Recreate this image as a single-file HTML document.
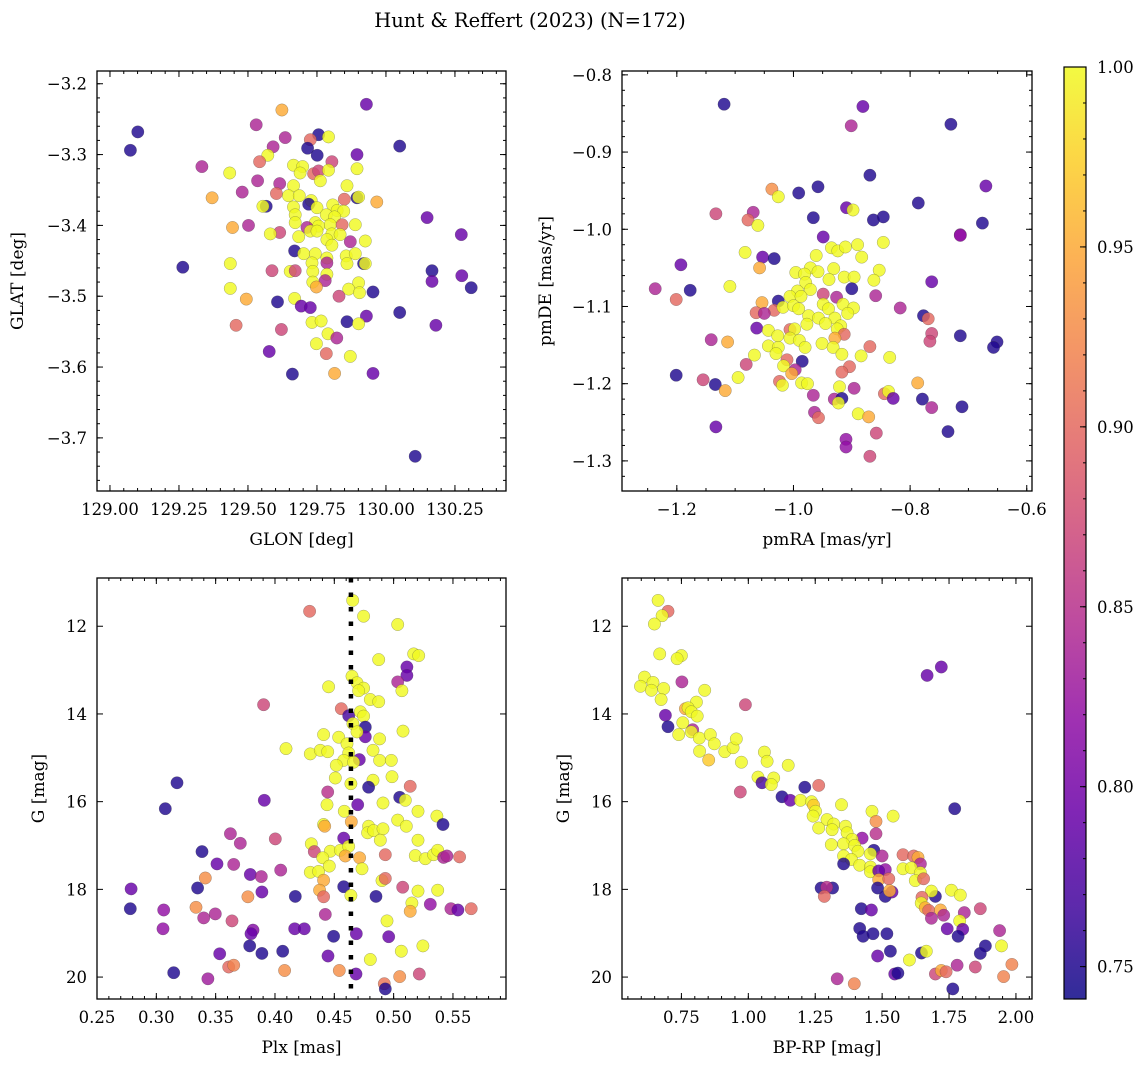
<!DOCTYPE html>
<html><head><meta charset="utf-8">
<style>
html,body{margin:0;padding:0;background:#fff;}
svg{display:block;font-family:"DejaVu Serif","Liberation Serif",serif;}
</style></head>
<body>
<svg id="fig" width="1148" height="1067" viewBox="0 0 1148 1067" xmlns="http://www.w3.org/2000/svg">
<defs>
<linearGradient id="plasmaGrad" x1="0" y1="1" x2="0" y2="0"></linearGradient>
</defs>
<text x="530" y="27" font-size="19.5" text-anchor="middle">Hunt &amp; Reffert (2023) (N=172)</text>
</svg>
<script>
// ---------- Panel 1: GLON vs GLAT ----------
const p1x=[129.101,129.074,129.623,129.929,129.530,129.635,129.756,129.726,129.792,129.716,129.591,129.572,129.751,129.895,130.050,129.804,129.542,129.333,129.434,129.665,129.698,129.689,129.738,129.756,129.792,129.762,129.895,129.535,129.615,129.665,129.479,129.370,129.603,129.647,129.686,129.859,129.895,129.901,129.849,129.967,129.729,129.566,129.554,129.665,129.720,129.750,129.807,129.823,129.847,129.671,129.784,129.814,130.149,129.671,129.744,129.798,129.841,129.889,129.714,129.756,129.444,129.502,129.615,129.581,129.726,129.750,129.804,129.834,130.273,129.684,129.786,129.871,129.925,129.804,129.669,129.702,129.744,129.786,129.856,129.889,129.264,129.436,129.732,129.786,129.859,129.919,129.925,130.167,130.167,130.275,130.309,129.587,129.653,129.671,129.735,129.786,129.780,129.735,129.748,129.901,129.865,129.904,129.953,129.436,129.494,129.830,129.669,129.607,129.693,129.726,130.050,129.929,129.859,129.732,129.765,129.901,130.181,129.457,129.621,129.790,129.822,129.748,129.577,129.784,129.871,129.661,129.814,129.953,130.106];
const p1y=[-3.268,-3.294,-3.237,-3.229,-3.258,-3.276,-3.272,-3.279,-3.275,-3.291,-3.289,-3.301,-3.301,-3.300,-3.288,-3.310,-3.310,-3.317,-3.326,-3.315,-3.317,-3.326,-3.327,-3.323,-3.322,-3.337,-3.320,-3.337,-3.341,-3.344,-3.353,-3.361,-3.355,-3.358,-3.358,-3.344,-3.361,-3.360,-3.363,-3.367,-3.365,-3.373,-3.373,-3.374,-3.370,-3.375,-3.371,-3.379,-3.380,-3.385,-3.385,-3.388,-3.389,-3.396,-3.396,-3.399,-3.399,-3.399,-3.403,-3.401,-3.403,-3.400,-3.410,-3.412,-3.408,-3.408,-3.412,-3.413,-3.413,-3.416,-3.420,-3.423,-3.422,-3.428,-3.436,-3.440,-3.440,-3.446,-3.443,-3.440,-3.459,-3.454,-3.453,-3.453,-3.454,-3.454,-3.454,-3.464,-3.479,-3.471,-3.488,-3.464,-3.465,-3.464,-3.465,-3.469,-3.478,-3.480,-3.487,-3.481,-3.490,-3.495,-3.494,-3.489,-3.504,-3.500,-3.503,-3.508,-3.514,-3.516,-3.523,-3.528,-3.536,-3.537,-3.535,-3.539,-3.541,-3.541,-3.547,-3.553,-3.559,-3.567,-3.578,-3.581,-3.585,-3.610,-3.609,-3.609,-3.726];
const p1c=[0.75,0.75,0.95,0.79,0.84,0.84,0.75,0.90,1,0.75,0.84,1,0.75,0.79,0.75,0.87,0.90,0.84,1,1,1,1,0.90,0.87,1,1,1,0.84,0.84,1,0.84,0.95,0.90,1,1,1,0.75,1,0.90,0.95,1,0.75,1,1,0.75,1,1,1,1,1,1,1,0.79,1,1,1,0.90,1,0.84,1,0.95,0.84,0.87,1,1,1,1,1,0.79,1,1,0.84,1,1,0.75,1,1,1,1,1,0.75,1,1,0.84,1,0.75,1,0.75,0.79,0.79,0.75,0.87,1,0.87,1,1,0.84,1,0.95,1,1,1,0.75,1,0.95,0.87,1,0.75,0.79,0.79,0.75,0.79,0.75,1,1,1,0.79,0.90,0.87,1,0.84,1,0.79,0.90,1,0.75,0.95,0.79,0.75];
const p1xTicks=[129.00,129.25,129.50,129.75,130.00,130.25];
const p1yTicks=[-3.2,-3.3,-3.4,-3.5,-3.6,-3.7];

// ---------- Panel 2: pmRA vs pmDE ----------
const p2x=[-1.119,-0.881,-0.901,-0.730,-0.869,-1.037,-0.991,-0.958,-0.670,-1.026,-0.786,-1.133,-1.069,-1.078,-1.061,-0.966,-0.909,-0.898,-0.863,-0.846,-0.676,-0.714,-0.714,-0.949,-0.935,-0.924,-0.911,-0.890,-0.846,-0.883,-1.083,-1.053,-1.033,-0.961,-1.193,-1.058,-0.971,-0.931,-0.853,-0.763,-1.237,-1.177,-1.201,-1.109,-0.996,-0.981,-0.958,-0.979,-0.939,-0.913,-0.896,-0.862,-0.900,-0.971,-0.993,-1.006,-0.987,-0.949,-0.926,-0.859,-1.054,-1.026,-1.033,-1.018,-1.000,-0.991,-0.949,-0.940,-0.915,-0.897,-0.907,-0.817,-1.064,-1.050,-0.777,-0.769,-0.974,-0.957,-0.929,-0.977,-0.945,-0.919,-0.925,-1.063,-1.043,-1.006,-0.998,-0.763,-0.766,-0.714,-0.651,-0.657,-1.141,-1.113,-1.027,-1.006,-0.990,-0.913,-0.929,-1.043,-1.026,-0.980,-0.951,-0.932,-0.917,-0.869,-0.884,-0.835,-1.067,-1.030,-1.081,-1.011,-0.985,-1.017,-0.997,-1.003,-0.904,-0.917,-1.201,-1.155,-1.134,-1.117,-1.095,-1.024,-1.019,-0.986,-0.976,-0.921,-0.896,-0.787,-0.966,-0.930,-0.917,-0.923,-0.844,-0.837,-0.829,-0.779,-0.763,-0.711,-0.964,-0.957,-0.889,-0.871,-1.133,-0.858,-0.735,-0.910,-0.910,-0.869];
const p2y=[-0.838,-0.841,-0.866,-0.864,-0.930,-0.948,-0.953,-0.945,-0.944,-0.958,-0.966,-0.980,-0.978,-0.988,-0.995,-0.985,-0.972,-0.975,-0.988,-0.984,-0.992,-1.007,-1.008,-1.010,-1.024,-1.028,-1.023,-1.020,-1.017,-1.036,-1.030,-1.036,-1.038,-1.034,-1.046,-1.050,-1.050,-1.051,-1.053,-1.068,-1.077,-1.079,-1.091,-1.074,-1.056,-1.058,-1.055,-1.069,-1.065,-1.062,-1.062,-1.066,-1.077,-1.078,-1.080,-1.087,-1.087,-1.084,-1.088,-1.086,-1.095,-1.093,-1.105,-1.101,-1.099,-1.103,-1.097,-1.103,-1.097,-1.102,-1.109,-1.102,-1.108,-1.109,-1.112,-1.116,-1.112,-1.115,-1.115,-1.123,-1.122,-1.125,-1.129,-1.128,-1.131,-1.130,-1.129,-1.135,-1.145,-1.138,-1.146,-1.153,-1.143,-1.146,-1.138,-1.141,-1.144,-1.136,-1.141,-1.151,-1.153,-1.153,-1.148,-1.153,-1.162,-1.152,-1.164,-1.166,-1.163,-1.161,-1.175,-1.169,-1.171,-1.177,-1.182,-1.187,-1.178,-1.185,-1.189,-1.195,-1.201,-1.209,-1.192,-1.197,-1.202,-1.199,-1.200,-1.204,-1.206,-1.199,-1.215,-1.220,-1.219,-1.225,-1.213,-1.210,-1.219,-1.220,-1.231,-1.230,-1.237,-1.244,-1.239,-1.243,-1.256,-1.264,-1.262,-1.272,-1.282,-1.294];
const p2c=[0.75,0.79,0.84,0.75,0.75,0.93,0.75,0.75,0.79,1,0.75,0.87,0.84,0.90,1,0.75,0.79,1,0.75,0.75,0.75,0.82,0.82,0.79,1,1,1,1,1,1,1,0.79,0.75,1,0.79,0.95,1,1,1,0.79,0.84,0.75,0.90,1,1,1,1,1,1,1,1,1,0.75,1,1,1,1,0.87,0.84,0.84,0.95,0.75,0.90,1,1,1,1,1,1,1,1,0.84,0.90,0.84,0.75,0.90,1,1,1,1,1,1,1,0.79,1,0.90,1,0.87,0.87,0.75,0.75,0.75,0.84,0.95,1,1,1,0.90,0.95,1,1,1,1,1,1,0.90,1,1,1,1,0.87,0.90,0.75,1,0.84,0.95,0.90,0.90,0.75,0.87,0.75,0.95,1,0.90,1,1,1,1,0.84,0.95,0.84,0.84,0.75,1,0.90,1,0.79,0.75,0.84,0.75,0.84,0.90,1,0.95,0.79,0.87,0.75,0.82,0.82,0.87];
const p2xTicks=[-1.2,-1.0,-0.8,-0.6];
const p2yTicks=[-0.8,-0.9,-1.0,-1.1,-1.2,-1.3];

// ---------- Panel 3: Plx vs G ----------
const p3x=[0.4655,0.4292,0.4747,0.5034,0.5169,0.5211,0.4874,0.5112,0.5112,0.5034,0.5070,0.4649,0.4691,0.4747,0.4705,0.4452,0.4803,0.4874,0.3904,0.4559,0.4621,0.4719,0.4747,0.4657,0.4761,0.4761,0.4691,0.5079,0.4410,0.4537,0.4882,0.4093,0.4298,0.4382,0.4444,0.4607,0.4621,0.4826,0.4711,0.4579,0.4663,0.4882,0.4980,0.4517,0.4508,0.4986,0.4826,0.4789,0.5140,0.3174,0.4640,0.4444,0.5051,0.5098,0.3910,0.4438,0.4697,0.4910,0.3076,0.4584,0.4643,0.5205,0.5034,0.5365,0.5416,0.4410,0.4419,0.4789,0.4781,0.4831,0.4910,0.5107,0.4888,0.5205,0.3624,0.3708,0.4003,0.4579,0.4306,0.4331,0.4466,0.4551,0.4621,0.4593,0.4713,0.4402,0.3385,0.4930,0.5183,0.5267,0.5337,0.5371,0.5421,0.5449,0.5556,0.3511,0.3652,0.4048,0.4298,0.4368,0.4458,0.4733,0.3792,0.3885,0.3413,0.4410,0.4902,0.4930,0.3348,0.4579,0.5076,0.2787,0.3890,0.4376,0.5205,0.5371,0.3772,0.4171,0.4410,0.4640,0.4851,0.5154,0.5140,0.5309,0.2781,0.3062,0.3334,0.3497,0.3399,0.3638,0.4424,0.5483,0.5542,0.5654,0.4944,0.3056,0.3815,0.3798,0.4166,0.4247,0.4494,0.4685,0.4958,0.3787,0.3534,0.3890,0.4065,0.4447,0.5065,0.5247,0.4803,0.3610,0.3652,0.3146,0.3435,0.4081,0.4542,0.4683,0.5051,0.5216,0.4921,0.4930];
const p3y=[11.41,11.66,11.77,11.96,12.63,12.67,12.76,12.93,13.12,13.27,13.47,13.14,13.29,13.41,13.47,13.38,13.67,13.72,13.79,13.88,14.04,13.95,14.05,14.22,14.30,14.52,14.41,14.39,14.47,14.53,14.57,14.79,14.91,14.83,14.86,14.68,14.89,14.83,15.04,15.06,15.10,15.06,15.06,15.17,15.46,15.43,15.51,15.67,15.65,15.57,15.59,15.78,15.90,15.97,15.97,16.07,16.07,16.03,16.16,16.22,16.46,16.22,16.42,16.33,16.52,16.52,16.56,16.56,16.71,16.66,16.62,16.56,16.88,16.88,16.73,16.95,16.85,16.83,16.96,17.14,17.13,17.11,17.02,17.24,17.28,17.28,17.14,17.21,17.23,17.30,17.21,17.11,17.27,17.24,17.26,17.42,17.43,17.56,17.61,17.59,17.47,17.53,17.66,17.71,17.74,17.79,17.80,17.75,17.97,17.94,17.95,17.99,18.06,18.02,18.04,18.02,18.17,18.16,18.17,18.14,18.16,18.31,18.50,18.34,18.44,18.47,18.41,18.56,18.65,18.72,18.57,18.44,18.47,18.44,18.72,18.90,18.93,19.01,18.90,18.90,19.07,19.01,19.08,19.29,19.47,19.46,19.41,19.52,19.41,19.29,19.60,19.77,19.73,19.90,20.04,19.85,19.85,19.93,19.99,19.93,20.15,20.27];
const p3c=[1,0.90,1,1,1,1,1,0.79,0.79,0.84,1,1,1,1,1,1,1,1,0.87,0.90,0.77,1,1,1,0.75,0.79,1,1,1,1,1,1,1,1,1,1,1,1,0.79,1,1,1,1,1,1,1,1,0.75,0.90,0.75,1,0.85,0.75,1,0.79,1,0.79,1,0.75,1,0.95,1,1,1,0.75,1,0.95,1,1,1,1,1,1,1,0.84,0.84,0.87,0.79,1,0.87,1,1,1,0.95,0.95,1,0.75,0.90,1,1,1,1,0.84,0.84,0.90,0.79,0.84,0.84,1,1,1,1,0.79,0.84,0.93,0.95,1,0.90,0.75,0.75,0.87,0.79,0.79,0.95,1,1,0.93,0.75,0.90,1,0.75,1,0.95,0.82,0.75,0.82,0.93,0.84,0.84,0.87,0.84,0.84,0.79,0.90,1,0.82,0.81,0.79,0.79,0.79,0.75,0.79,0.79,0.75,0.79,0.75,0.75,0.79,1,1,1,0.90,0.92,0.75,0.83,0.93,0.93,0.79,0.93,0.87,0.91,0.75];
const p3xTicks=[0.25,0.30,0.35,0.40,0.45,0.50,0.55];
const p3yTicks=[12,14,16,18,20];
const plxLine=[0.464];

// ---------- Panel 4: BP-RP vs G ----------
const p4x=[0.663,0.700,0.678,0.649,0.669,0.750,0.734,1.668,1.721,0.752,0.612,0.644,0.597,0.638,0.684,0.674,0.837,0.989,0.806,0.765,0.775,0.787,0.809,0.690,0.700,0.755,0.740,0.792,0.787,0.817,0.858,0.873,0.818,0.852,0.912,0.943,0.955,0.974,1.060,1.070,1.149,1.036,1.051,1.095,1.086,0.970,1.211,1.263,1.126,1.157,1.195,1.236,1.244,1.348,1.251,1.242,1.294,1.462,1.541,1.771,1.477,1.263,1.319,1.313,1.363,1.477,1.369,1.425,1.388,1.310,1.356,1.397,1.469,1.500,1.410,1.456,1.356,1.385,1.356,1.578,1.618,1.634,1.643,1.578,1.609,1.643,1.416,1.456,1.456,1.512,1.487,1.487,1.525,1.624,1.655,1.272,1.315,1.293,1.284,1.483,1.512,1.537,1.528,1.699,1.684,1.759,1.792,1.649,1.646,1.661,1.674,1.718,1.684,1.730,1.807,1.790,1.867,1.422,1.460,1.416,1.429,1.466,1.518,1.743,1.801,1.784,1.939,1.946,1.886,1.867,1.531,1.483,1.602,1.647,1.665,1.699,1.721,1.739,1.780,1.848,1.985,1.954,1.547,1.559,1.332,1.396,1.764];
const p4y=[11.41,11.66,11.76,11.95,12.63,12.67,12.74,13.12,12.93,13.27,13.16,13.28,13.37,13.46,13.42,13.67,13.46,13.79,13.73,13.88,13.86,13.95,14.05,14.03,14.29,14.20,14.47,14.36,14.41,14.55,14.47,14.68,14.85,15.05,14.86,14.77,14.57,15.10,14.87,15.08,15.17,15.44,15.57,15.46,15.61,15.78,15.67,15.63,15.89,15.97,15.97,16.00,16.08,16.07,16.22,16.33,16.41,16.22,16.33,16.16,16.45,16.60,16.51,16.64,16.56,16.73,16.71,16.83,16.86,16.98,16.96,17.00,17.11,17.24,17.13,17.19,17.24,17.32,17.42,17.21,17.24,17.27,17.42,17.53,17.51,17.62,17.45,17.49,17.60,17.55,17.58,17.78,17.76,17.80,17.76,17.97,17.97,17.95,18.16,17.97,18.16,18.06,18.03,18.16,18.04,18.02,18.13,18.18,18.31,18.42,18.48,18.47,18.66,18.59,18.53,18.72,18.44,18.44,18.47,18.89,19.07,19.01,19.01,18.90,18.91,19.07,18.94,19.29,19.29,19.46,19.41,19.52,19.61,19.45,19.41,19.93,19.85,19.88,19.73,19.77,19.71,19.99,19.93,19.91,20.04,20.15,20.27];
const p4c=[1,0.90,1,1,1,1,1,0.79,0.79,0.84,1,1,1,1,1,1,1,0.87,1,0.95,1,1,1,0.79,0.75,1,1,0.84,1,1,1,1,1,0.97,1,1,1,1,1,1,1,1,0.77,1,1,0.87,0.75,0.90,0.75,0.79,1,1,0.97,1,1,1,1,1,1,0.75,0.93,1,1,1,1,0.85,1,0.82,1,1,1,1,0.75,0.84,1,1,1,1,0.75,0.90,0.90,0.95,0.84,1,1,1,1,1,1,0.82,0.79,0.95,0.90,1,0.90,0.75,0.75,0.85,0.90,0.75,0.75,0.79,0.95,0.75,1,1,1,0.90,1,0.95,0.90,0.95,0.84,0.84,0.84,1,0.87,0.75,0.79,0.75,0.75,0.75,0.75,0.79,0.79,0.75,0.84,1,0.75,0.75,0.75,0.79,1,0.75,1,0.87,0.95,0.90,0.84,0.87,0.92,0.92,0.79,0.75,0.84,0.92,0.75];
const p4xTicks=[0.75,1.00,1.25,1.50,1.75,2.00];
const p4yTicks=[12,14,16,18,20];

// ---------- Colorbar ----------
const cbTicks=[0.75,0.80,0.85,0.90,0.95,1.00];
const cbMin=0.741, cbMax=1.0;

const NS="http://www.w3.org/2000/svg";
const svg=document.getElementById('fig');
const plasma=[[13,8,135],[65,4,157],[106,0,168],[143,13,164],[177,42,144],[204,71,120],[225,100,98],[242,132,75],[252,166,54],[252,206,37],[240,249,33]];
function cmap(v){
  let t=(v-cbMin)/(cbMax-cbMin); t=Math.max(0,Math.min(1,t));
  const f=t*10, i=Math.min(9,Math.floor(f)), r=f-i;
  const a=plasma[i], b=plasma[i+1];
  return 'rgb('+Math.round(a[0]+(b[0]-a[0])*r)+','+Math.round(a[1]+(b[1]-a[1])*r)+','+Math.round(a[2]+(b[2]-a[2])*r)+')';
}
function mk(tag,attrs,parent){const e=document.createElementNS(NS,tag);for(const k in attrs)e.setAttribute(k,attrs[k]);(parent||svg).appendChild(e);return e;}
function fmt(v,d){return (v<0?'\u2212':'')+Math.abs(v).toFixed(d);}

function panel(cfg){
  const g=mk('g',{});
  
  
  const X=v=>cfg.L+(v-cfg.xmin)/(cfg.xmax-cfg.xmin)*(cfg.R-cfg.L);
  const Y=v=>cfg.B-(v-cfg.ymin)/(cfg.ymax-cfg.ymin)*(cfg.B-cfg.T);
  const clip='clip-'+cfg.name;
  const cp=mk('clipPath',{id:clip},g);mk('rect',{x:cfg.L,y:cfg.T,width:cfg.R-cfg.L,height:cfg.B-cfg.T},cp);
  const pts=mk('g',{'clip-path':'url(#'+clip+')'},g);
  
  
  for(let i=0;i<cfg.xs.length;i++){
    const c=mk('circle',{cx:X(cfg.xs[i]).toFixed(1),cy:Y(cfg.ys[i]).toFixed(1),r:6.2,fill:cmap(cfg.cs[i]),'fill-opacity':0.82,stroke:'rgba(60,60,60,0.45)','stroke-width':0.5},pts);
    
    
  }
  if(cfg.vline){
    for(const v of cfg.vline){
      const l=mk('line',{x1:X(v),x2:X(v),y1:cfg.T,y2:cfg.B,stroke:'#000','stroke-width':4.5,'stroke-dasharray':'4.5 10'},g);
      
      
    }
  }
  const tk=mk('g',{stroke:'#000','stroke-width':1},g);
  
  
  const eps=1e-9;
  for(let v=Math.ceil(cfg.xmin/cfg.xminor-eps)*cfg.xminor;v<=cfg.xmax+eps;v+=cfg.xminor){
    const x=X(v);mk('line',{x1:x,x2:x,y1:cfg.B,y2:cfg.B-3},tk);mk('line',{x1:x,x2:x,y1:cfg.T,y2:cfg.T+3},tk);
  }
  for(let v=Math.ceil(cfg.ymin/cfg.yminor-eps)*cfg.yminor;v<=cfg.ymax+eps;v+=cfg.yminor){
    const y=Y(v);mk('line',{x1:cfg.L,x2:cfg.L+3,y1:y,y2:y},tk);mk('line',{x1:cfg.R,x2:cfg.R-3,y1:y,y2:y},tk);
  }
  cfg.xticks.forEach(v=>{
    const x=X(v);mk('line',{x1:x,x2:x,y1:cfg.B,y2:cfg.B-6},tk);mk('line',{x1:x,x2:x,y1:cfg.T,y2:cfg.T+6},tk);
    const t=mk('text',{x:x,y:cfg.B+24,'font-size':16.5,'text-anchor':'middle'},g);t.textContent=fmt(v,cfg.xd);
    
    
  });
  cfg.yticks.forEach(v=>{
    const y=Y(v);mk('line',{x1:cfg.L,x2:cfg.L+6,y1:y,y2:y},tk);mk('line',{x1:cfg.R,x2:cfg.R-6,y1:y,y2:y},tk);
    const t=mk('text',{x:cfg.L-10,y:y+6,'font-size':16.5,'text-anchor':'end'},g);t.textContent=fmt(v,cfg.yd);
    
    
  });
  const fr=mk('rect',{x:cfg.L,y:cfg.T,width:cfg.R-cfg.L,height:cfg.B-cfg.T,fill:'none',stroke:'#000','stroke-width':1.3},g);
  
  
  const xl=mk('text',{x:(cfg.L+cfg.R)/2,y:cfg.B+54,'font-size':17,'text-anchor':'middle'},g);xl.textContent=cfg.xlabel;
  
  
  const yx=cfg.ylx, yy=(cfg.T+cfg.B)/2;
  const yl=mk('text',{x:yx,y:yy,'font-size':17,'text-anchor':'middle',transform:'rotate(-90 '+yx+' '+yy+')'},g);yl.textContent=cfg.ylabel;
  
  
}

panel({name:'glon-glat-panel',L:97,R:506,T:71,B:491,xmin:128.953,xmax:130.435,ymin:-3.775,ymax:-3.182,xs:p1x,ys:p1y,cs:p1c,xticks:p1xTicks,yticks:p1yTicks,xminor:0.05,yminor:0.02,xd:2,yd:1,xlabel:'GLON [deg]',ylabel:'GLAT [deg]',ylx:23});
panel({name:'pm-panel',L:622,R:1032,T:71,B:491,xmin:-1.294,xmax:-0.591,ymin:-1.339,ymax:-0.795,xs:p2x,ys:p2y,cs:p2c,xticks:p2xTicks,yticks:p2yTicks,xminor:0.05,yminor:0.02,xd:1,yd:1,xlabel:'pmRA [mas/yr]',ylabel:'pmDE [mas/yr]',ylx:551});
panel({name:'plx-g-panel',L:97,R:506,T:578,B:999,xmin:0.25,xmax:0.5947,ymin:20.50,ymax:10.90,xs:p3x,ys:p3y,cs:p3c,xticks:p3xTicks,yticks:p3yTicks,xminor:0.01,yminor:0.5,xd:2,yd:0,xlabel:'Plx [mas]',ylabel:'G [mag]',ylx:44,vline:plxLine});
panel({name:'cmd-panel',L:622,R:1032,T:578,B:999,xmin:0.528,xmax:2.06,ymin:20.50,ymax:10.90,xs:p4x,ys:p4y,cs:p4c,xticks:p4xTicks,yticks:p4yTicks,xminor:0.05,yminor:0.5,xd:2,yd:0,xlabel:'BP-RP [mag]',ylabel:'G [mag]',ylx:569});

const grad=document.getElementById('plasmaGrad');
for(let i=0;i<=10;i++){mk('stop',{offset:(i*10)+'%','stop-color':'rgb('+plasma[i].join(',')+')'},grad);}
const cbL=1064,cbR=1086,cbT=67,cbB=999;
const cbY=v=>cbB-(v-cbMin)/(cbMax-cbMin)*(cbB-cbT);
const cb=mk('g',{});


mk('rect',{x:cbL,y:cbT,width:cbR-cbL,height:cbB-cbT,fill:'url(#plasmaGrad)','fill-opacity':0.85,stroke:'#000','stroke-width':1.2},cb);
for(let v=0.75;v<=1.0001;v+=0.01){const y=cbY(v);mk('line',{x1:cbR,x2:cbR-3,y1:y,y2:y,stroke:'#000','stroke-width':1},cb);}
cbTicks.forEach(v=>{
  const y=cbY(v);mk('line',{x1:cbR,x2:cbR-6,y1:y,y2:y,stroke:'#000','stroke-width':1},cb);
  const t=mk('text',{x:cbR+11,y:y+6,'font-size':16.5},cb);t.textContent=v.toFixed(2);
  
  
});
</script>
</body></html>
